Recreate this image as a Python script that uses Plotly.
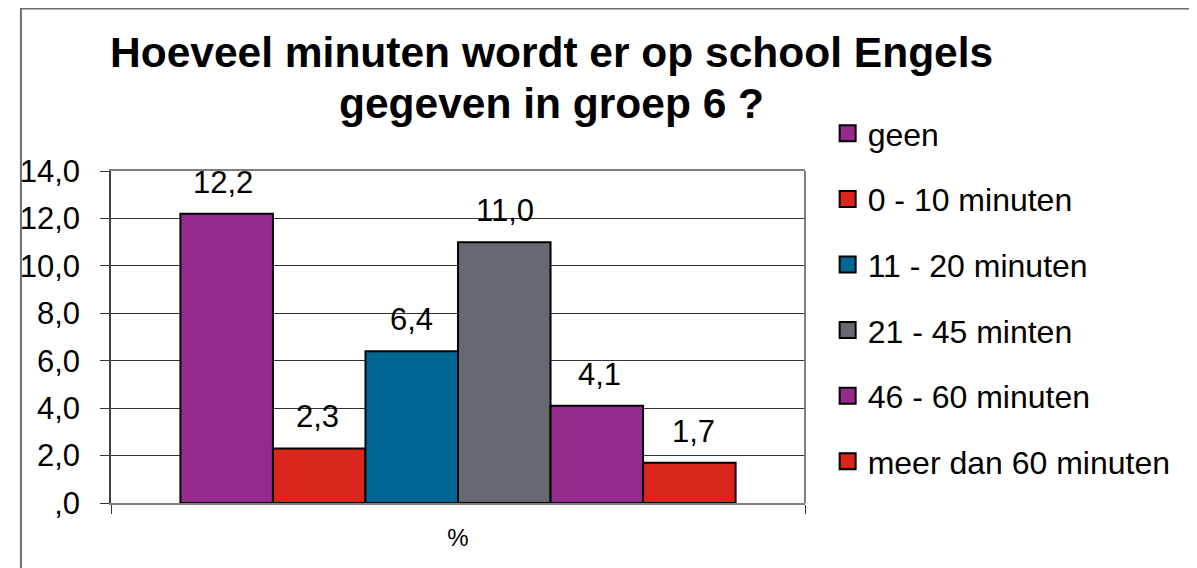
import plotly.graph_objects as go

categories = ["%"]
series_names = ["geen", "0 - 10 minuten", "11 - 20 minuten", "21 - 45 minten",
                "46 - 60 minuten", "meer dan 60 minuten"]
series_values = [12.2, 2.3, 6.4, 11.0, 4.1, 1.7]
series_colors = ["#942A8C", "#DA251D", "#006693", "#666A70", "#942A8C", "#DA251D"]
tick_vals = [0, 2, 4, 6, 8, 10, 12, 14]
tick_text = [",0", "2,0", "4,0", "6,0", "8,0", "10,0", "12,0", "14,0"]
title_lines = ["Hoeveel minuten wordt er op school Engels", "gegeven in groep 6 ?"]

FONT = "Arial, Liberation Sans, sans-serif"
BARGAP = 0.2

# page offset of the figure div (body margin)
OFF = 8
W, H = 1197 - OFF, 568 - OFF
L, R, T, B = 100 - OFF, 805 - OFF, 171 - OFF, 503 - OFF
pw, ph = R - L, B - T


def px(page_x):
    return (page_x - OFF - L) / pw


def py(page_y):
    return (B - (page_y - OFF)) / ph


fig = go.Figure()
for name, val, col in zip(series_names, series_values, series_colors):
    fig.add_trace(go.Bar(
        x=categories, y=[val], name=name, legendgroup=name, showlegend=False,
        marker=dict(color=col, line=dict(color="#000000", width=2)),
    ))
# legend entries (square swatches)
for name, col in zip(series_names, series_colors):
    fig.add_trace(go.Scatter(
        x=[None], y=[None], mode="markers", name=name, legendgroup=name,
        marker=dict(symbol="square", size=16, color=col,
                    line=dict(color="#000000", width=2)),
        hoverinfo="skip",
    ))

# value labels above the bars
n = len(series_values)
bar_px = pw * (1 - BARGAP) / n
annotations = []
for i, val in enumerate(series_values):
    annotations.append(dict(
        x=categories[0], y=val, xref="x", yref="y",
        xshift=(i - (n - 1) / 2) * bar_px, yshift=12,
        text=("%.1f" % val).replace(".", ","), showarrow=False,
        xanchor="center", yanchor="bottom",
        font=dict(family=FONT, size=31, color="#000000"),
    ))

annotations += [
    dict(text="<b>%s</b>" % title_lines[0], xref="paper", yref="paper",
         x=px(547.5), y=py(52), xanchor="center", yanchor="middle", showarrow=False,
         font=dict(family=FONT, size=42.5, color="#000000")),
    dict(text="<b>%s</b>" % title_lines[1], xref="paper", yref="paper",
         x=px(547.5), y=py(104), xanchor="center", yanchor="middle", showarrow=False,
         font=dict(family=FONT, size=42.5, color="#000000")),
]

fig.update_layout(
    width=W, height=H,
    margin=dict(l=L, r=W - R, t=T, b=H - B, pad=0),
    paper_bgcolor="white", plot_bgcolor="white",
    separators=",.",
    barmode="group", bargap=BARGAP, bargroupgap=0,
    font=dict(family=FONT, color="#000000"),
    showlegend=True,
    legend=dict(
        x=px(828), xanchor="left", y=py(106), yanchor="top",
        font=dict(family=FONT, size=32, color="#000000"),
        tracegroupgap=21, bgcolor="rgba(0,0,0,0)", maxheight=520,
    ),
    xaxis=dict(
        type="category", tickson="boundaries", ticks="outside", ticklen=9,
        tickcolor="#333333", showline=True, linecolor="#808080", linewidth=2,
        mirror=True, showgrid=False, ticklabelstandoff=12,
        tickfont=dict(family=FONT, size=24, color="#000000"),
    ),
    yaxis=dict(
        range=[0, 14], tickvals=tick_vals, ticktext=tick_text,
        ticks="outside", ticklen=9, tickcolor="#333333",
        showline=True, linecolor="#404040", linewidth=1.5, mirror=False,
        showgrid=True, gridcolor="#333333", gridwidth=1,
        tickfont=dict(family=FONT, size=31, color="#000000"),
        ticklabelstandoff=14, zeroline=False,
    ),
    shapes=[
        dict(type="rect", xref="paper", yref="paper",
             x0=px(8.5), x1=px(1300), y0=py(700), y1=py(8.5),
             line=dict(color="#6e6e6e", width=2), fillcolor="rgba(0,0,0,0)",
             layer="below"),
        dict(type="line", xref="paper", yref="paper", x0=1, x1=1, y0=0, y1=1,
             line=dict(color="#808080", width=2), layer="above"),
    ],
    annotations=annotations,
)

fig.write_html("out.html")
